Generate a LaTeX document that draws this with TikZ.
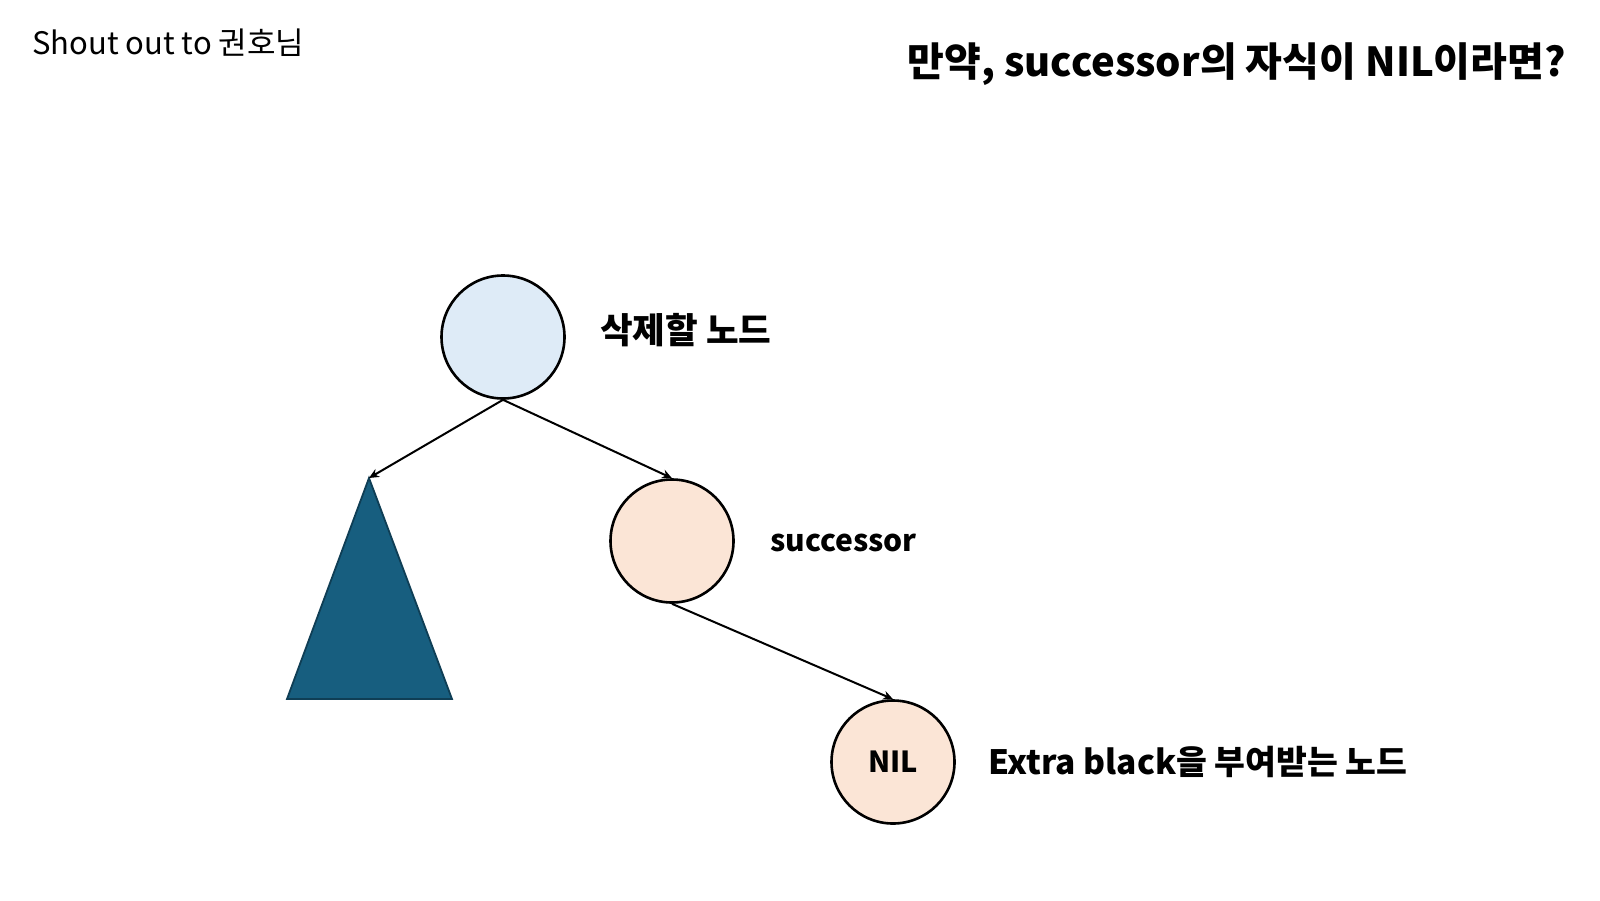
\documentclass[tikz,border=0pt]{standalone}
\usepackage{fontspec}
\setmainfont{Noto Sans CJK KR}
\usetikzlibrary{arrows.meta}
\definecolor{rootfill}{HTML}{DEEBF7}
\definecolor{succfill}{HTML}{FBE5D6}
\definecolor{trifill}{HTML}{175E7F}
\definecolor{triline}{HTML}{0F3E55}
\tikzset{
  treenode/.style={circle, draw=black, line width=2.6pt, minimum size=123pt, inner sep=0pt},
  arr/.style={line width=2pt, -{Stealth[length=10pt,width=9pt]}},
  lbl/.style={anchor=west, inner sep=0pt},
}
\begin{document}
\begin{tikzpicture}[x=1pt,y=-1pt]
\useasboundingbox (0,0) rectangle (1600,900);
\node[anchor=west, inner sep=0pt, font=\fontsize{31}{36}\selectfont] (shout) at (32,43) {Shout out to 권호님};
\node[anchor=east, inner sep=0pt, font=\fontsize{40}{46}\selectfont\bfseries] (title) at (1566,64) {만약, successor의 자식이 NIL이라면?};
\node[treenode, fill=rootfill] (root) at (503,337) {};
\node[treenode, fill=succfill] (succ) at (672,541) {};
\node[treenode, fill=succfill, font=\fontsize{29}{33}\selectfont\bfseries] (nil) at (893,762) {NIL};
\coordinate (apex) at (369,478);
\coordinate (bl) at (287,699);
\coordinate (br) at (452,699);
\draw[fill=trifill, draw=triline, line width=1.8pt, line join=miter] (apex) -- (br) -- (bl) -- cycle;
\node[lbl, font=\fontsize{35.5}{40}\selectfont\bfseries] (rootlbl) at (600,330) {삭제할 노드};
\node[lbl, font=\fontsize{30}{36}\selectfont\bfseries] (succlbl) at (770,543) {successor};
\node[lbl, font=\fontsize{33.5}{38}\selectfont\bfseries] (nillbl) at (988,762) {Extra black을 부여받는 노드};
\draw[arr] (root.south) -- (apex);
\draw[arr] (root.south) -- (succ.north);
\draw[arr] (succ.south) -- (nil.north);
\end{tikzpicture}
\end{document}
